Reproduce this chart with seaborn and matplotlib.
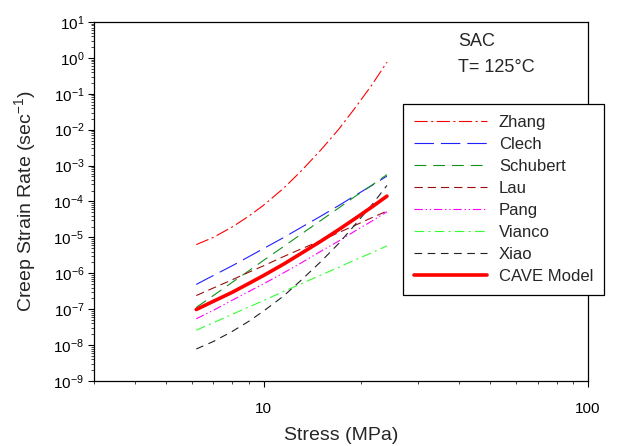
import numpy as np
import pandas as pd
import seaborn as sns
import matplotlib.pyplot as plt
from matplotlib.ticker import LogLocator, NullFormatter, FixedLocator

sns.set_style("ticks")
plt.rcParams['font.family'] = ['Liberation Sans', 'DejaVu Sans']
plt.rcParams['mathtext.default'] = 'regular'
plt.rcParams['lines.scale_dashes'] = False

stress = [6.2, 7, 8, 9, 10, 11.5, 13, 15, 17, 19, 21.5, 24]

# creep strain rate (1/s)
zhang = [6.3e-6, 1.0e-5, 1.95e-5, 3.9e-5, 7.9e-5, 2.3e-4, 6.8e-4, 2.7e-3, 1.0e-2, 3.7e-2, 1.7e-1, 7.6e-1]
clech = [4.9e-7, 8.7e-7, 1.62e-6, 2.9e-6, 4.9e-6, 9.8e-6, 1.86e-5, 3.9e-5, 7.6e-5, 1.41e-4, 2.75e-4, 5.1e-4]
schubert = [1.12e-7, 2.4e-7, 5.6e-7, 1.17e-6, 2.3e-6, 5.5e-6, 1.2e-5, 2.95e-5, 6.5e-5, 1.32e-4, 2.8e-4, 5.6e-4]
lau = [2.4e-7, 3.9e-7, 6.6e-7, 1.07e-6, 1.62e-6, 2.9e-6, 4.7e-6, 8.1e-6, 1.35e-5, 2.1e-5, 3.5e-5, 5.4e-5]
pang = [5.4e-8, 9.3e-8, 1.78e-7, 3.1e-7, 5.1e-7, 1.02e-6, 1.9e-6, 4.1e-6, 7.8e-6, 1.45e-5, 2.8e-5, 5.2e-5]
vianco = [2.6e-8, 4.2e-8, 7.2e-8, 1.15e-7, 1.74e-7, 3.1e-7, 5.0e-7, 8.9e-7, 1.45e-6, 2.3e-6, 3.7e-6, 5.8e-6]
xiao = [7.8e-9, 1.26e-8, 2.4e-8, 4.6e-8, 8.9e-8, 2.3e-7, 6.2e-7, 2.1e-6, 6.6e-6, 2.1e-5, 7.8e-5, 2.8e-4]
cave = [9.8e-8, 1.66e-7, 2.95e-7, 5.2e-7, 8.7e-7, 1.78e-6, 3.5e-6, 7.8e-6, 1.62e-5, 3.2e-5, 6.9e-5, 1.41e-4]

names = ['Zhang', 'Clech', 'Schubert', 'Lau', 'Pang', 'Vianco', 'Xiao', 'CAVE Model']
series = [zhang, clech, schubert, lau, pang, vianco, xiao, cave]
colors = ['#ff0000', '#2020ff', '#11921a', '#9a1010', '#ff00ff', '#33ff33', '#222222', '#ff0000']
styles = [(0, (9.5, 2.5, 1.5, 2.5)), (0, (14, 5)), (0, (8.5, 5)), (0, (6, 3.5)),
          (0, (6, 2, 1, 2, 1, 2)), (0, (7, 3, 1.5, 3)), (0, (5.5, 4)), '-']
widths = [0.8, 0.8, 0.8, 0.8, 0.8, 0.8, 0.8, 2.6]

fig = plt.figure(figsize=(6.23, 4.46), dpi=100)
ax = fig.add_axes([94 / 623, 1 - 381 / 446, (588 - 94) / 623, (381 - 22) / 446])

for name, vals, c, ls, lw in zip(names, series, colors, styles, widths):
    df = pd.DataFrame({'stress': stress, 'rate': vals})
    sns.lineplot(data=df, x='stress', y='rate', ax=ax, color=c, linestyle=ls,
                 linewidth=lw, label=name, errorbar=None)

ax.set_xscale('log')
ax.set_yscale('log')
ax.set_xlim(3, 100)
ax.set_ylim(1e-9, 10)

ax.xaxis.set_major_locator(FixedLocator([10, 100]))
ax.set_xticklabels(['10', '100'])
ax.xaxis.set_minor_locator(LogLocator(base=10, subs=np.arange(2, 10)))
ax.xaxis.set_minor_formatter(NullFormatter())
ax.yaxis.set_major_locator(LogLocator(base=10, numticks=20))
ax.yaxis.set_minor_locator(LogLocator(base=10, subs=np.arange(2, 10), numticks=20))
ax.yaxis.set_minor_formatter(NullFormatter())

ax.tick_params(axis='both', which='major', direction='out', length=4, width=0.8,
               labelsize=11, color='black', labelcolor='black')
ax.tick_params(axis='both', which='minor', direction='out', length=2.2, width=0.6)
ax.tick_params(axis='x', which='major', pad=11)
ax.tick_params(axis='y', which='major', pad=3)
for s in ax.spines.values():
    s.set_visible(True)
    s.set_linewidth(0.9)
    s.set_color('black')

ax.set_xlabel('Stress (MPa)', fontsize=14, labelpad=8)
ax.set_ylabel('Creep Strain Rate (sec$^{-1}$)', fontsize=14, labelpad=11)

fig.text(458 / 623, 1 - 42 / 446, 'SAC', fontsize=13, va='center')
fig.text(458 / 623, 1 - 68 / 446, 'T= 125°C', fontsize=13, va='center')

leg = ax.legend(loc='upper left', bbox_to_anchor=(403 / 623, 1 - 104 / 446),
                bbox_transform=fig.transFigure, fontsize=12, frameon=True,
                fancybox=False, edgecolor='black', framealpha=1,
                handlelength=4.4, handletextpad=0.7, labelspacing=0.42,
                borderpad=0.65, borderaxespad=0)
leg.get_frame().set_linewidth(0.9)

fig.savefig('out.png', dpi=100)
